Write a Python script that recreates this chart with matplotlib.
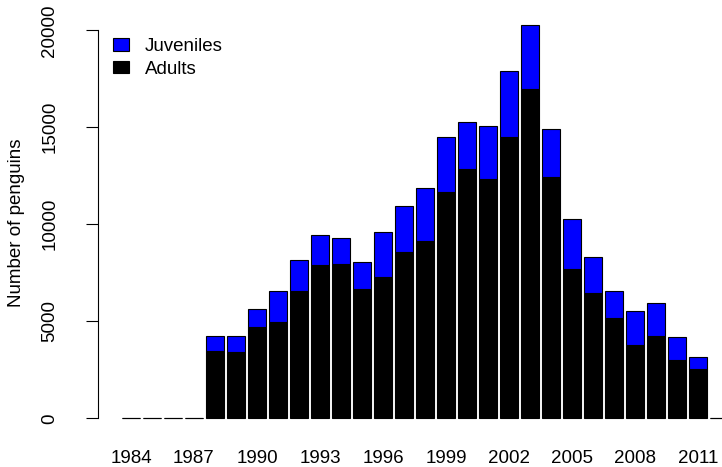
import numpy as np
import matplotlib
matplotlib.use("Agg")
import matplotlib.pyplot as plt
from matplotlib.patches import Patch

plt.rcParams['font.family'] = ['Liberation Sans', 'DejaVu Sans']

years = list(range(1984, 2013))
adults = [0, 0, 0, 0,
          3470, 3420, 4720, 4960, 6560, 7920, 7950, 6670, 7300, 8570,
          9140, 11680, 12870, 12350, 14500, 16960, 12440, 7680, 6460,
          5170, 3760, 4230, 3020, 2530, 0]
juveniles = [0, 0, 0, 0,
             790, 820, 910, 1590, 1600, 1550, 1330, 1400, 2280, 2360,
             2720, 2820, 2400, 2700, 3420, 3320, 2490, 2580, 1870,
             1380, 1790, 1710, 1170, 620, 0]
legend_labels = ["Juveniles", "Adults"]
ytick_values = [0, 5000, 10000, 15000, 20000]

FS = 13.5
W, H = 722, 467
fig = plt.figure(figsize=(W / 100, H / 100), dpi=100)
ax = fig.add_axes([98 / W, 1 - 437.5 / H, 624 / W, 428.5 / H])

# barplot-style layout: bars of width 1 separated by 0.2
x = 0.7 + 1.2 * np.arange(len(years))
ax.bar(x, adults, width=1.0, color="black", edgecolor="black", linewidth=0.8)
ax.bar(x, juveniles, bottom=adults, width=1.0, color="#0000ff",
       edgecolor="black", linewidth=0.8)

ax.set_xlim(-1.184, 34.47)
ax.set_ylim(-990, 21098)

for s in ["top", "right", "bottom"]:
    ax.spines[s].set_visible(False)
ax.spines["left"].set_bounds(0, 20000)
ax.spines["left"].set_linewidth(0.8)

ax.set_yticks(ytick_values)
ax.set_yticklabels([str(v) for v in ytick_values], rotation=90, va="center",
                   fontsize=FS)
ax.tick_params(axis="y", length=8.6, width=0.8, pad=20)

ax.set_xticks(x[::3])
ax.set_xticklabels([str(y) for y in years[::3]], fontsize=FS)
ax.tick_params(axis="x", length=0, pad=9)

fig.text(17 / W, 1 - 223 / H, "Number of penguins", rotation=90,
         ha="center", va="center", fontsize=FS)

handles = [Patch(facecolor="#0000ff", edgecolor="black", linewidth=0.8),
           Patch(facecolor="black", edgecolor="black", linewidth=0.8)]
fig.legend(handles, legend_labels, loc="upper left",
           bbox_to_anchor=(113 / W, 1 - 38 / H), frameon=False,
           fontsize=FS, handlelength=0.85, handleheight=0.65,
           handletextpad=0.85, labelspacing=0.3, borderpad=0,
           borderaxespad=0)

fig.savefig("out.png", dpi=100)
